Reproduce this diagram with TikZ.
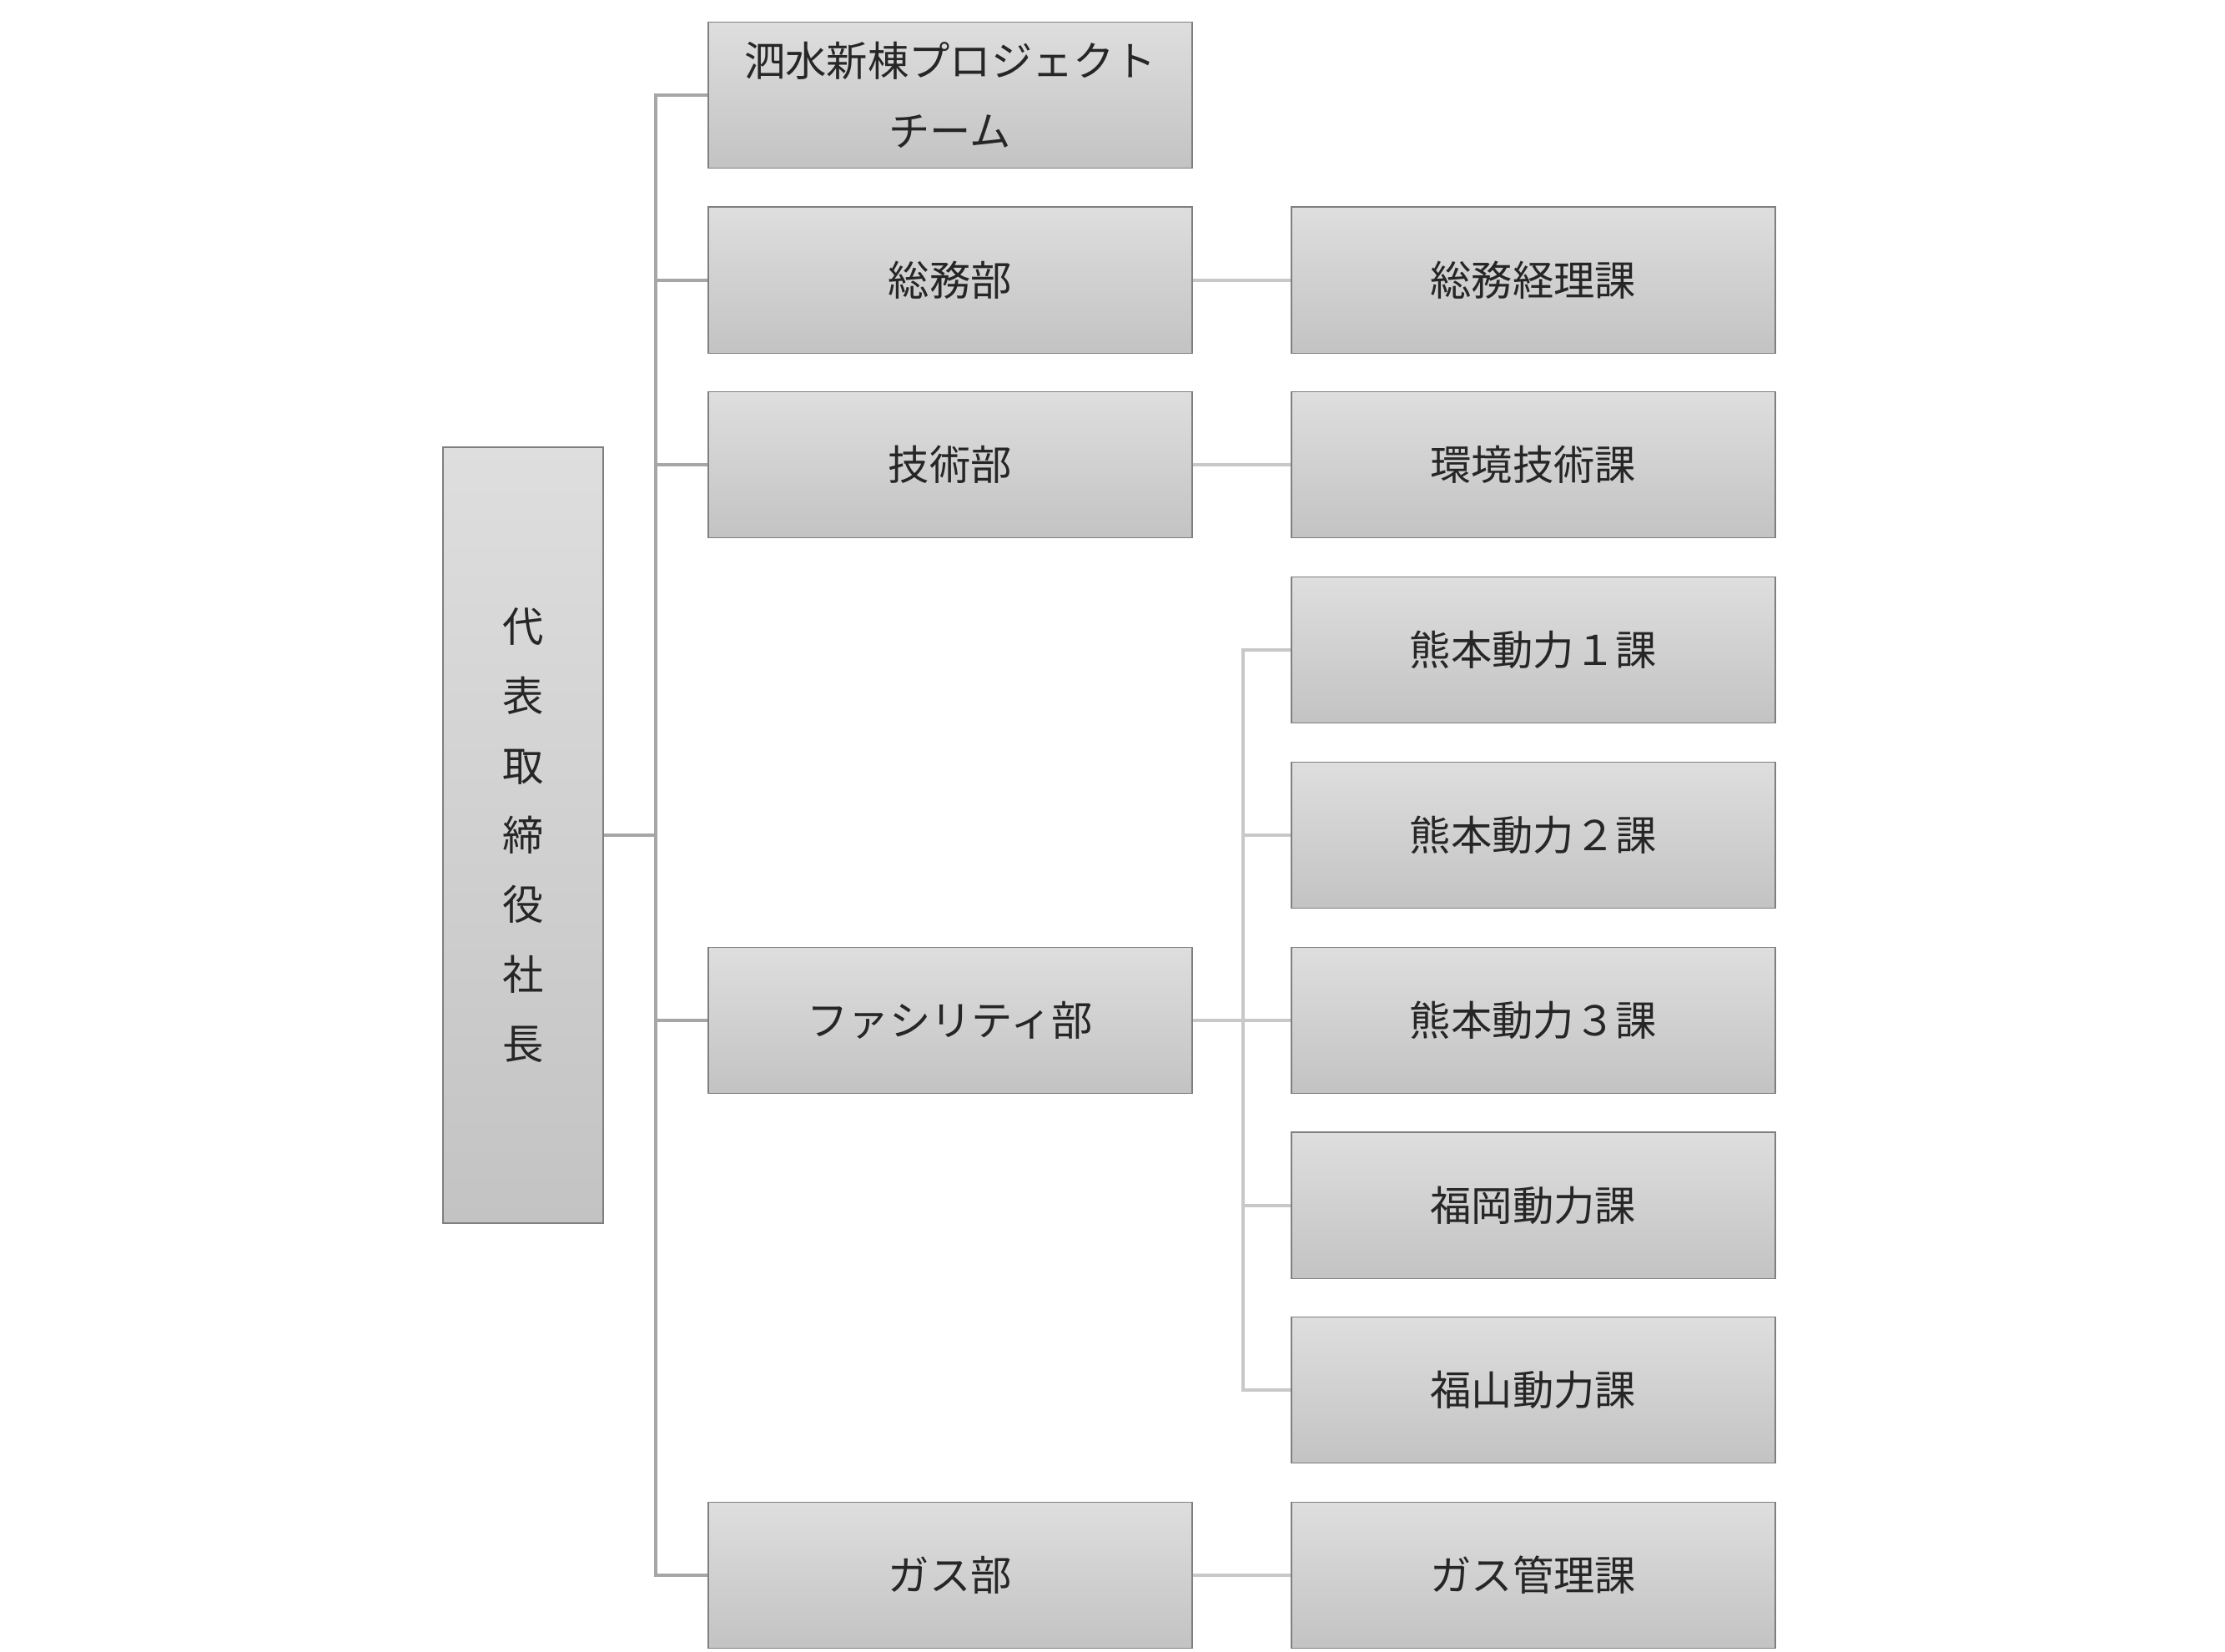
\documentclass[tikz,border=0pt]{standalone}
\usepackage{fontspec}
\newfontfamily\cjk{Noto Sans CJK JP}
\definecolor{topc}{HTML}{DEDEDE}
\definecolor{botc}{HTML}{C3C3C3}
\definecolor{edge}{HTML}{7F7F7F}
\definecolor{lineA}{HTML}{A6A6A6}
\definecolor{lineB}{HTML}{C8C8C8}
\begin{document}
\begin{tikzpicture}[x=1pt,y=-1pt,
  box/.style={draw=edge,line width=1pt,top color=topc,bottom color=botc,minimum width=341pt,minimum height=103pt,inner sep=0pt,font=\cjk\fontsize{29}{49}\selectfont,align=center,text=black!85},
  la/.style={lineA,line width=2.5pt},
  lb/.style={lineB,line width=2pt}]
\useasboundingbox (0,0) rectangle (1568,1164);
\node[box,minimum width=113pt,minimum height=547pt] (boss) at (368.5,588.5) {代\\表\\取\\締\\役\\社\\長};
\node[box] (p) at (669.5,67) {泗水新棟プロジェクト\\チーム};
\node[box] (s) at (669.5,197.5) {総務部};
\node[box] (g) at (669.5,327.5) {技術部};
\node[box] (f) at (669.5,719) {ファシリティ部};
\node[box] (ga) at (669.5,1110) {ガス部};
\node[box] (s1) at (1080.5,197.5) {総務経理課};
\node[box] (g1) at (1080.5,327.5) {環境技術課};
\node[box] (f1) at (1080.5,458) {熊本動力１課};
\node[box] (f2) at (1080.5,588.5) {熊本動力２課};
\node[box] (f3) at (1080.5,719) {熊本動力３課};
\node[box] (f4) at (1080.5,849.5) {福岡動力課};
\node[box] (f5) at (1080.5,979.5) {福山動力課};
\node[box] (ga1) at (1080.5,1110) {ガス管理課};
\coordinate (t) at (462,588.5);
\draw[la] (boss.east) -- (t);
\draw[la] (p.west) -| (t);
\draw[la] (ga.west) -| (t);
\foreach \n in {s,g,f} \draw[la] (\n.west) -- (t|-\n.west);
\draw[lb] (s.east) -- (s1.west);
\draw[lb] (g.east) -- (g1.west);
\draw[lb] (ga.east) -- (ga1.west);
\coordinate (u) at (876,719);
\draw[lb] (f.east) -- (f3.west);
\draw[lb] (f1.west) -| (u);
\draw[lb] (f5.west) -| (u);
\foreach \n in {f2,f4} \draw[lb] (\n.west) -- (u|-\n.west);
\end{tikzpicture}
\end{document}
